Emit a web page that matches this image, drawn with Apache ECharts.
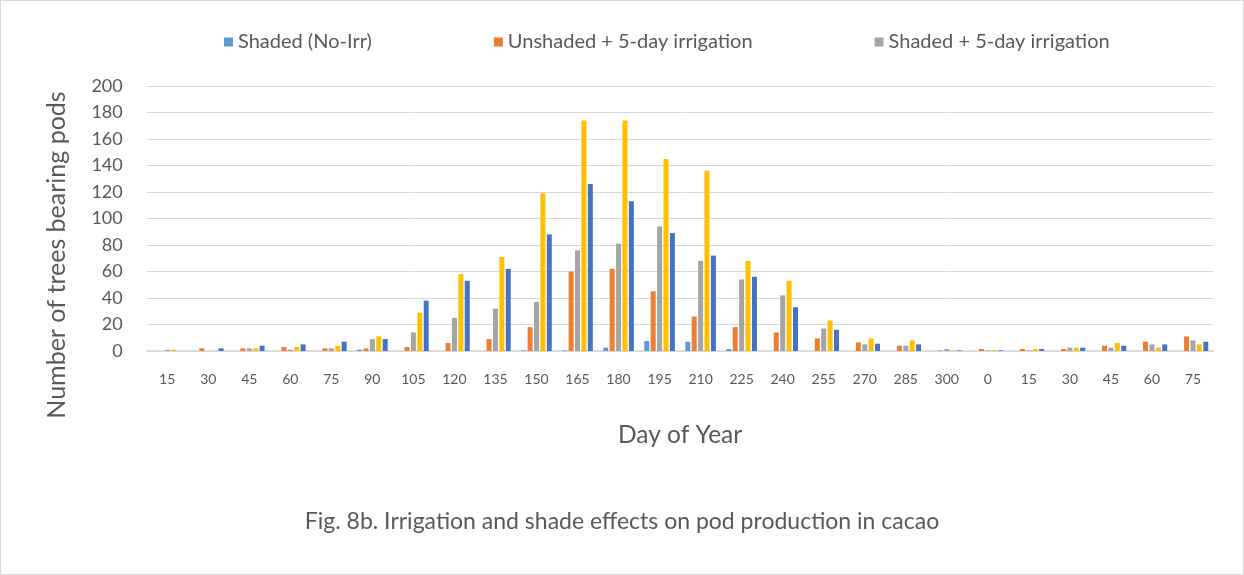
<!DOCTYPE html>
<html>
<head>
<meta charset="utf-8">
<script src="https://cdn.jsdelivr.net/npm/echarts@6/dist/echarts.min.js"></script>
<style>
  html, body { margin: 0; padding: 0; background: #fff; }
  #wrap { position: relative; width: 1244px; height: 575px; }
  #chart { position: absolute; left: 0; top: 0; width: 1244px; height: 575px; }
  #frame { position: absolute; left: 0; top: 0; width: 1244px; height: 575px; box-sizing: border-box; border: 1px solid #d9d9d9; pointer-events: none; }
</style>
</head>
<body>
<div id="wrap"><div id="chart"></div><div id="frame"></div></div>
<script>
// Category labels (day of year)
const categories = ['15','30','45','60','75','90','105','120','135','150','165','180','195','210','225','240','255','270','285','300','0','15','30','45','60','75'];
const yTicks = [0, 20, 40, 60, 80, 100, 120, 140, 160, 180, 200];

// Series values
const shadedNoIrr      = [0, 0, 0, 0, 0, 1, 0, 0, 0, 0.5, 0.5, 2.5, 7.5, 7, 1.5, 0, 0, 0, 0, 0, 0, 0, 0, 0, 0, 0];
const unshadedIrr5     = [0, 2, 2, 3, 2, 2, 3, 6, 9, 18, 60, 62, 45, 26, 18, 14, 9.5, 6.5, 4, 0.5, 1.5, 1.5, 1.5, 4, 7, 11];
const shadedIrr5       = [1, 0, 2, 1, 2, 9, 14, 25, 32, 37, 76, 81, 94, 68, 54, 42, 17, 5, 4, 1.5, 0.5, 0.5, 2.5, 2.5, 5, 8];
const seriesYellow     = [1, 0, 2, 3, 4, 11, 29, 58, 71, 119, 174, 174, 145, 136, 68, 53, 23, 9.5, 8, 0.5, 0.5, 1.5, 2.5, 6, 2.5, 5];
const seriesDarkBlue   = [0, 2, 4, 5, 7, 9, 38, 53, 62, 88, 126, 113, 89, 72, 56, 33, 16, 5.5, 5, 0.5, 0.5, 1.5, 2.5, 4, 5, 7];

const names = ['Shaded (No-Irr)', 'Unshaded + 5-day irrigation', 'Shaded + 5-day irrigation', 'Series 4', 'Series 5'];
const colors = ['#5B9BD5', '#ED7D31', '#A5A5A5', '#FFC000', '#4472C4'];
const values = [shadedNoIrr, unshadedIrr5, shadedIrr5, seriesYellow, seriesDarkBlue];

const FONT = 'Lato, "Open Sans", sans-serif';
const TXT = '#595959';

const chart = echarts.init(document.getElementById('chart'), null, { renderer: 'canvas' });
chart.setOption({
  animation: false,
  backgroundColor: '#ffffff',
  title: {
    text: 'Fig. 8b. Irrigation and shade effects on pod production in cacao',
    left: 'center',
    top: 505,
    textStyle: { fontFamily: FONT, fontSize: 23, fontWeight: 'normal', color: TXT }
  },
  legend: {
    data: names.slice(0, 3),
    left: 219,
    top: 27,
    itemWidth: 9,
    itemHeight: 9,
    itemGap: 122,
    icon: 'rect',
    textStyle: { fontFamily: FONT, fontSize: 20, color: TXT }
  },
  grid: { left: 146.7, right: 30.5, top: 86, bottom: 224, containLabel: false },
  xAxis: {
    type: 'category',
    data: categories,
    name: 'Day of Year',
    nameLocation: 'middle',
    nameGap: 72,
    nameTextStyle: { fontFamily: FONT, fontSize: 24.5, color: TXT },
    axisLine: { lineStyle: { color: '#d9d9d9', width: 1.5 } },
    axisTick: { show: false },
    axisLabel: { fontFamily: FONT, fontSize: 14, color: TXT, margin: 21, interval: 0 }
  },
  yAxis: {
    type: 'value',
    min: yTicks[0],
    max: yTicks[yTicks.length - 1],
    interval: yTicks[1] - yTicks[0],
    axisLine: { show: false },
    axisTick: { show: false },
    splitLine: { lineStyle: { color: '#d9d9d9', width: 1 } },
    axisLabel: { fontFamily: FONT, fontSize: 18, color: TXT, margin: 24 }
  },
  graphic: [{
    type: 'text',
    x: 57, y: 255,
    rotation: Math.PI / 2,
    style: {
      text: 'Number of trees bearing pods',
      fontFamily: FONT, fontSize: 25, fill: TXT,
      align: 'center', verticalAlign: 'middle'
    }
  }],
  series: values.map((v, i) => ({
    type: 'bar',
    name: names[i],
    data: v,
    barWidth: 5,
    barGap: '28%',
    itemStyle: { color: colors[i] }
  }))
});
</script>
</body>
</html>
